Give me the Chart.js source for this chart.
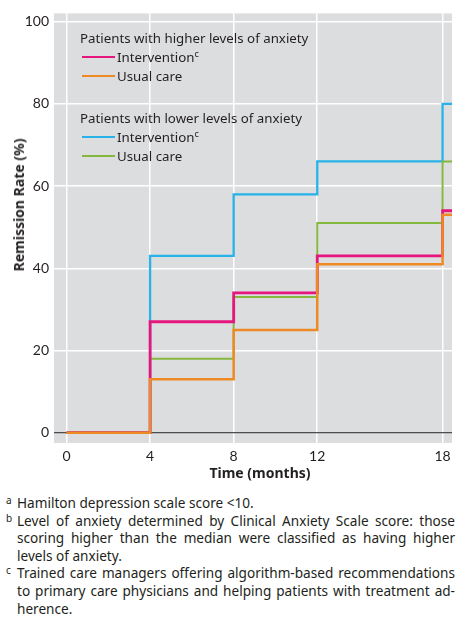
<!DOCTYPE html>
<html>
<head>
<meta charset="utf-8">
<script src="https://cdn.jsdelivr.net/npm/chart.js@4.4.1/dist/chart.umd.min.js"></script>
<style>
  body { margin: 0; background: #fff; font-family: 'Noto Sans', sans-serif; color: #231f20; }
  #wrap { position: relative; width: 465px; height: 617px; overflow: hidden; }
  canvas { position: absolute; left: 0; top: 0; }
  .legend { position: absolute; left: 80px; font-size: 13.3px; line-height: 19px; white-space: nowrap; }
  .legend .item { padding-left: 2px; }
  .legend .swatch { display: inline-block; width: 33px; height: 2.5px; vertical-align: middle; margin-right: 2px; position: relative; top: -1px; }
  .legend sup { font-size: 9px; line-height: 0; vertical-align: 5px; }
  .axis-title { position: absolute; font-weight: bold; font-size: 14px; line-height: 18px; white-space: nowrap; }
  #ytitle { left: 19px; top: 205px; transform: translate(-50%, -50%) rotate(-90deg); }
  #xtitle { left: 260px; top: 473px; transform: translate(-50%, -50%); }
  .notes { position: absolute; left: 17px; top: 494px; width: 438px; font-size: 13.6px; line-height: 17.6px; }
  .notes .fn { position: relative; }
  .notes .ln { white-space: nowrap; text-align: justify; text-align-last: justify; }
  .notes .ln.last { text-align-last: left; }
  .notes .mark { position: absolute; left: -11px; top: 0; font-size: 10px; line-height: 12px; }
</style>
</head>
<body>
<div id="wrap">
  <canvas id="chart" width="465" height="485"></canvas>
  <div class="axis-title" id="ytitle">Remission Rate (%)</div>
  <div class="axis-title" id="xtitle">Time (months)</div>
  <div class="legend" style="top: 28.5px;">
    <div>Patients with higher levels of anxiety</div>
    <div class="item"><span class="swatch" style="background:#e5177f"></span>Intervention<sup>c</sup></div>
    <div class="item"><span class="swatch" style="background:#ee8a24"></span>Usual care</div>
  </div>
  <div class="legend" style="top: 108.5px;">
    <div>Patients with lower levels of anxiety</div>
    <div class="item"><span class="swatch" style="background:#27b2e8"></span>Intervention<sup>c</sup></div>
    <div class="item"><span class="swatch" style="background:#84b83f"></span>Usual care</div>
  </div>
  <div class="notes">
    <div class="fn"><span class="mark">a</span><div class="ln last">Hamilton depression scale score &lt;10.</div></div>
    <div class="fn"><span class="mark">b</span>
      <div class="ln">Level of anxiety determined by Clinical Anxiety Scale score: those</div>
      <div class="ln">scoring higher than the median were classified as having higher</div>
      <div class="ln last">levels of anxiety.</div>
    </div>
    <div class="fn"><span class="mark">c</span>
      <div class="ln">Trained care managers offering algorithm-based recommendations</div>
      <div class="ln">to primary care physicians and helping patients with treatment ad-</div>
      <div class="ln last">herence.</div>
    </div>
  </div>
</div>
<script>
const months = [0, 4, 8, 12, 18];
const xEnd = 18.45;
const xTicks = [0, 4, 8, 12, 18];
const yTicks = [0, 20, 40, 60, 80, 100];

const highIntervention = [0, 27, 34, 43, 54];
const highUsualCare = [0, 13, 25, 41, 53];
const lowIntervention = [0, 43, 58, 66, 80];
const lowUsualCare = [0, 18, 33, 51, 66];

// last value carried to the right edge of the plot
function steps(values) {
  const pts = months.map((m, i) => ({ x: m, y: values[i] }));
  pts.push({ x: xEnd, y: values[values.length - 1] });
  return pts;
}

const plotBackground = {
  id: 'plotBackground',
  beforeDraw(chart) {
    const { ctx, chartArea: a } = chart;
    ctx.save();
    ctx.fillStyle = '#dcdddf';
    ctx.fillRect(a.left, a.top, a.right - a.left, a.bottom - a.top);
    ctx.restore();
  }
};

const line = (data, color, width, order) => ({
  data: steps(data),
  borderColor: color,
  borderWidth: width,
  stepped: true,
  pointRadius: 0,
  fill: false,
  order
});

new Chart(document.getElementById('chart').getContext('2d'), {
  type: 'line',
  data: {
    datasets: [
      line(highUsualCare, '#ee8a24', 2.5, 1),
      line(highIntervention, '#e5177f', 2.8, 2),
      line(lowUsualCare, '#84b83f', 2, 3),
      line(lowIntervention, '#27b2e8', 2.3, 4)
    ]
  },
  options: {
    responsive: false,
    animation: false,
    layout: { padding: { top: 8, right: 13, left: 0, bottom: 0 } },
    plugins: { legend: { display: false }, tooltip: { enabled: false } },
    scales: {
      x: {
        type: 'linear',
        min: -0.6,
        max: xEnd,
        afterBuildTicks: (s) => { s.ticks = xTicks.map((v) => ({ value: v })); },
        afterFit: (s) => { s.height = 42; },
        grid: { color: '#ffffff', lineWidth: 1.5, drawTicks: false },
        border: { display: false },
        ticks: { color: '#231f20', padding: 5, font: { family: 'Lato', size: 14 } }
      },
      y: {
        min: -2.5,
        max: 102,
        afterBuildTicks: (s) => { s.ticks = yTicks.map((v) => ({ value: v })); },
        afterFit: (s) => { s.width = 54; },
        grid: {
          color: (c) => (c.tick && c.tick.value === 0 ? '#4d4d4f' : '#ffffff'),
          lineWidth: (c) => (c.tick && c.tick.value === 0 ? 1.2 : 1.5),
          drawTicks: false
        },
        border: { display: false },
        ticks: { color: '#231f20', padding: 5, font: { family: 'Lato', size: 14 } }
      }
    }
  },
  plugins: [plotBackground]
});
</script>
</body>
</html>
